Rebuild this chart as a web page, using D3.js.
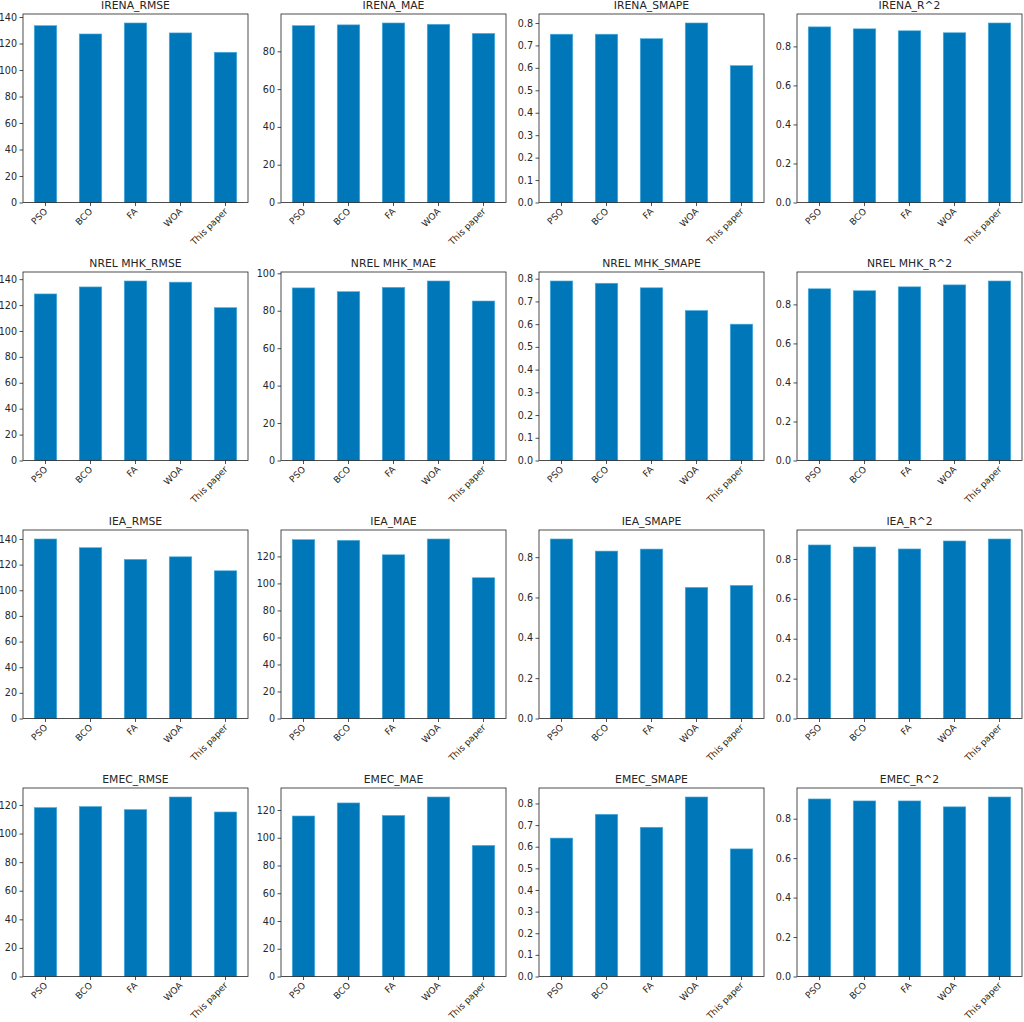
<!DOCTYPE html>
<html>
<head>
<meta charset="utf-8">
<script src="https://cdn.jsdelivr.net/npm/d3@7"></script>
<style>
    body { margin: 0; background: #fff; }
    text { font-family: 'DejaVu Sans', sans-serif; fill: #262626; }
</style>
</head>
<body>
<div id="viz"></div>
<script>
const models = ['PSO', 'BCO', 'FA', 'WOA', 'This paper'];
const datasets = ['IRENA', 'NREL MHK', 'IEA', 'EMEC'];
const metrics = ['RMSE', 'MAE', 'SMAPE', 'R^2'];

// one row per dataset, values in model order
const rmse = [
    [133.5, 127.2, 135.5, 128.0, 113.4],
    [128.6, 134.0, 138.6, 137.7, 118.0],
    [140.0, 133.2, 124.1, 126.1, 115.2],
    [118.2, 118.9, 116.8, 125.6, 115.1]
];
const mae = [
    [93.6, 94.0, 95.0, 94.3, 89.5],
    [92.2, 90.2, 92.5, 95.9, 85.2],
    [132.4, 131.9, 121.2, 132.9, 104.2],
    [115.7, 125.1, 116.1, 129.4, 94.5]
];
const smape = [
    [0.75, 0.75, 0.73, 0.80, 0.61],
    [0.79, 0.78, 0.76, 0.66, 0.60],
    [0.89, 0.83, 0.84, 0.65, 0.66],
    [0.64, 0.75, 0.69, 0.83, 0.59]
];
const r2 = [
    [0.90, 0.89, 0.88, 0.87, 0.92],
    [0.88, 0.87, 0.89, 0.90, 0.92],
    [0.87, 0.86, 0.85, 0.89, 0.90],
    [0.90, 0.89, 0.89, 0.86, 0.91]
];
// y tick spacing per panel [dataset][metric]
const tickSteps = [
    [20, 20, 0.1, 0.2],
    [20, 20, 0.1, 0.2],
    [20, 20, 0.2, 0.2],
    [20, 20, 0.1, 0.2]
];

const metricData = [rmse, mae, smape, r2];

const width = 1024;
const height = 1022;
const left0 = 23;
const top0 = 14;
const colStep = 258;
const rowStep = 258;
const pw = 225;
const ph = 188.5;

const barColour = '#0077b8';
const barEdge = '#4fb0e0';

const svg = d3.select('#viz').append('svg')
    .attr('width', width)
    .attr('height', height)
    .style('background', '#fff');

datasets.forEach((ds, r) => {
    metrics.forEach((m, c) => {
        const values = metricData[c][r];
        const step = tickSteps[r][c];
        const ymax = d3.max(values) * 1.05;

        const g = svg.append('g')
            .attr('transform', 'translate(' + (left0 + c * colStep) + ',' + (top0 + r * rowStep) + ')');

        const x = d3.scaleBand()
            .domain(models)
            .range([0, pw])
            .paddingInner(0.5)
            .paddingOuter(0.25);

        const y = d3.scaleLinear()
            .domain([0, ymax])
            .range([ph, 0]);

        const nTicks = Math.floor(ymax / step + 1e-9);
        const ticks = d3.range(0, nTicks + 1).map(i => i * step);
        const fmt = step < 1 ? d3.format('.1f') : d3.format('d');

        g.selectAll('rect.bar').data(values)
            .enter().append('rect')
            .attr('class', 'bar')
            .attr('x', (d, i) => x(models[i]))
            .attr('width', x.bandwidth())
            .attr('y', d => y(d))
            .attr('height', d => ph - y(d))
            .style('fill', barColour)
            .style('stroke', barEdge)
            .style('stroke-width', 0.6);

        const yAxis = g.append('g')
            .call(d3.axisLeft(y).tickValues(ticks).tickFormat(fmt).tickSize(3.5).tickPadding(2.5));
        yAxis.select('.domain').remove();
        yAxis.selectAll('line').attr('stroke', '#222').attr('stroke-width', 0.8);
        yAxis.selectAll('text').style('font-size', '9.6px').attr('fill', '#262626');

        const xAxis = g.append('g')
            .attr('transform', 'translate(0,' + ph + ')')
            .call(d3.axisBottom(x).tickSize(3.5).tickFormat(''));
        xAxis.select('.domain').remove();
        xAxis.selectAll('line').attr('stroke', '#222').attr('stroke-width', 0.8);

        g.selectAll('text.xlab').data(models)
            .enter().append('text')
            .attr('class', 'xlab')
            .attr('text-anchor', 'end')
            .attr('transform', d => 'translate(' + (x(d) + x.bandwidth() / 2 + 2.5) + ',' + (ph + 9.5) + ') rotate(-45)')
            .style('font-size', '9px')
            .text(d => d);

        g.append('rect')
            .attr('width', pw)
            .attr('height', ph)
            .attr('fill', 'none')
            .attr('stroke', '#222')
            .attr('stroke-width', 0.8);

        g.append('text')
            .attr('x', pw / 2)
            .attr('y', -5)
            .attr('text-anchor', 'middle')
            .style('font-size', '10.8px')
            .text(ds + '_' + m);
    });
});
</script>
</body>
</html>
